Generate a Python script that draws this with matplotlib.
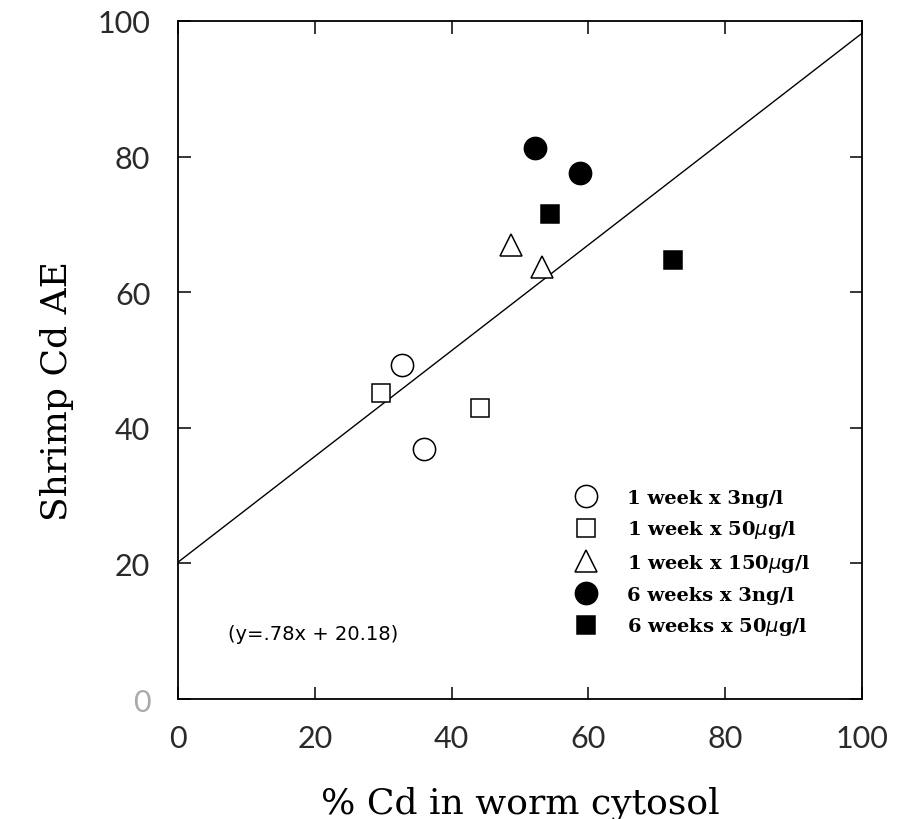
import numpy as np
import matplotlib
matplotlib.use("Agg")
import matplotlib.pyplot as plt

# % Cd in worm cytosol vs shrimp Cd assimilation efficiency
groups = ["1 week x 3ng/l", "1 week x 50$\\mu$g/l", "1 week x 150$\\mu$g/l",
          "6 weeks x 3ng/l", "6 weeks x 50$\\mu$g/l"]
x_vals = [[32.8, 35.9], [29.6, 44.1], [48.7, 53.2], [52.2, 58.7], [54.4, 72.3]]
y_vals = [[49.3, 36.8], [45.1, 42.9], [66.9, 63.7], [81.3, 77.6], [71.5, 64.7]]
markers = ["o", "s", "^", "o", "s"]
filled = [False, False, False, True, True]
msizes = [16, 13, 16, 16, 13]

slope = 0.78
intercept = 20.18
ticks = [0, 20, 40, 60, 80, 100]

fig = plt.figure(figsize=(9.06, 8.2), dpi=100)
ax = fig.add_axes([0.1965, 0.1463, 0.755, 0.827])

# regression line
xl = np.array([0, 100])
ax.plot(xl, slope * xl + intercept, color="black", lw=1.0)

for xs, ys, m, f, ms, lab in zip(x_vals, y_vals, markers, filled, msizes, groups):
    ax.plot(xs, ys, linestyle="none", marker=m, markersize=ms,
            markerfacecolor="black" if f else "white",
            markeredgecolor="black", markeredgewidth=1.1, label=lab)

ax.set_xlim(0, 100)
ax.set_ylim(0, 100)
ax.set_xticks(ticks)
ax.set_yticks(ticks)
ax.tick_params(direction="in", length=9, width=1.1, top=True, right=True,
               labelsize=22, labelcolor="#2a2a2a")
ax.tick_params(axis="x", pad=18)
ax.tick_params(axis="y", pad=20)
for lbl in ax.get_xticklabels() + ax.get_yticklabels():
    lbl.set_fontfamily(["Lato", "DejaVu Sans"])
ax.get_yticklabels()[0].set_color("#aaaaaa")
for s in ax.spines.values():
    s.set_linewidth(1.3)

ax.set_xlabel("% Cd in worm cytosol", fontsize=26, family="DejaVu Serif",
              labelpad=24)
ax.set_ylabel("Shrimp Cd AE", fontsize=26, family="DejaVu Serif")
ax.yaxis.set_label_coords(-0.152, 0.455)

ax.text(7.3, 9.7, "(y=.78x + 20.18)", fontsize=14, family="DejaVu Sans",
        va="center")

leg = ax.legend(loc="lower right", bbox_to_anchor=(0.95, 0.065), frameon=False,
                prop={"family": "DejaVu Serif", "size": 14, "weight": "bold"},
                labelspacing=0.6, handletextpad=1.1, markerscale=1.0)

fig.savefig("out.png", dpi=100)
